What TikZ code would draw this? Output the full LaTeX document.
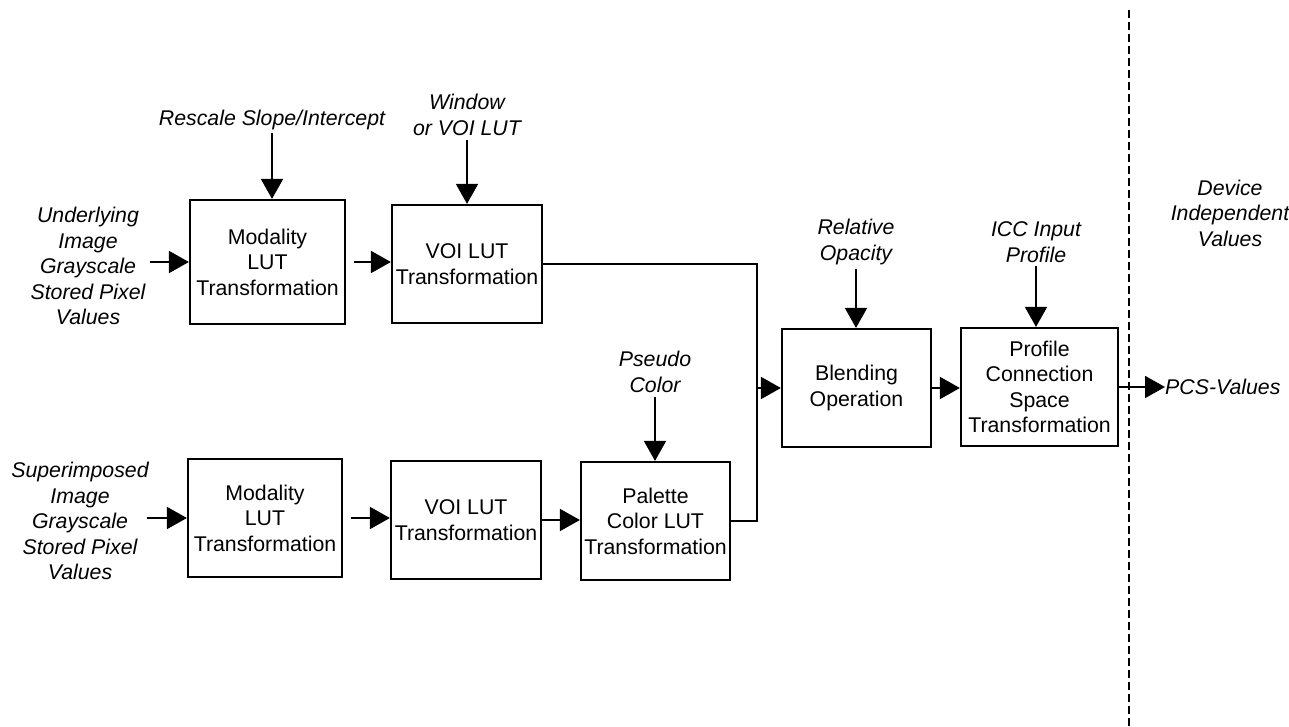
\documentclass[tikz,border=0pt]{standalone}
\usepackage{fontspec}
\setmainfont{Liberation Sans}
\usetikzlibrary{arrows.meta}

\tikzset{
	blk/.style={draw=black, line width=2.2pt, minimum width=#1, minimum height=118pt, inner sep=0pt, align=center},
	blk/.default=150pt,
	inp/.style={font=\itshape, align=center, inner sep=0pt},
	arr/.style={line width=1.8pt, -{Triangle[length=20pt,width=22pt]}},
	lnk/.style={line width=1.6pt}
}

\begin{document}
\begin{tikzpicture}[x=1pt, y=-1pt]
	\useasboundingbox (0,0) rectangle (1289,727);
	\fontsize{21.3}{25.5}\selectfont
	
	% underlying image
	\node[blk=155pt, minimum height=124pt] (modA) at (267.5,262) {Modality\\LUT\\Transformation};
	\node[blk] (voiA) at (467,264) {VOI LUT\\Transformation};
	
	% superimposed image
	\node[blk=154pt] (modB) at (265,518) {Modality\\LUT\\Transformation};
	\node[blk] (voiB) at (466,520) {VOI LUT\\Transformation};
	\node[blk=149pt] (palB) at (655.5,521) {Palette\\Color LUT\\Transformation};
	
	% blending and PCS
	\node[blk=149pt] (blend) at (856.5,388) {Blending\\Operation};
	\node[blk=157pt] (prof) at (1039.5,387) {Profile\\Connection\\Space\\Transformation};
	
	% inputs
	\node[inp] (undA) at (88,266) {Underlying\\Image\\Grayscale\\Stored Pixel\\Values};
	\node[inp] (supB) at (80,521) {Superimposed\\Image\\Grayscale\\Stored Pixel\\Values};
	\node[inp] (resc) at (272,120) {Rescale Slope/Intercept};
	\node[inp] (wind) at (467,115) {Window\\or VOI LUT};
	\node[inp] (pseu) at (655,372) {Pseudo\\Color};
	\node[inp] (opac) at (856,242) {Relative\\Opacity};
	\node[inp] (icc) at (1036,242) {ICC Input\\Profile};
	\node[inp, anchor=west] (pcs) at (1165,387) {PCS-Values};
	\node[inp] (dev) at (1230,213) {Device\\Independent\\Values};
	
	\coordinate (inA) at (150,262);
	\coordinate (inB) at (147,518);
	\coordinate (mrg) at (757,388);
	
	\draw[arr] (inA) -- (modA.west);
	\draw[arr, shorten <=8pt] (modA.east) -- (voiA.west |- modA.east);
	\draw[arr] (inB) -- (modB.west);
	\draw[arr, shorten <=8pt] (modB.east) -- (voiB.west |- modB.east);
	\draw[arr] (voiB.east) -- (palB.west |- voiB.east);
	
	\draw[lnk] (voiA.east) -| (palB.east -| mrg) -- (palB.east);
	\draw[arr] (mrg) -- (blend.west);
	\draw[arr] (blend.east) -- (prof.west |- blend.east);
	\draw[arr] (prof.east) -- (pcs.west);
	
	\draw[arr, shorten <=3pt] (resc.south) -- (resc.south |- modA.north);
	\draw[arr, shorten <=4pt] (wind.south) -- (wind.south |- voiA.north);
	\draw[arr, shorten <=4pt] (pseu.south) -- (pseu.south |- palB.north);
	\draw[arr, shorten <=4pt] (opac.south) -- (opac.south |- blend.north);
	\draw[arr, shorten <=4pt] (icc.south) -- (icc.south |- prof.north);
	
	% device independent boundary
	\draw[line width=2pt, dash pattern=on 8pt off 4pt] (1129,10) -- (1129,727);
	
\end{tikzpicture}
\end{document}
